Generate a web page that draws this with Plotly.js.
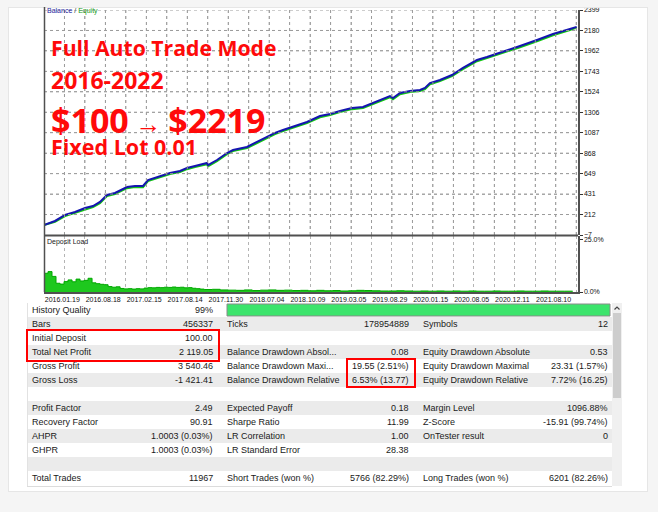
<!DOCTYPE html>
<html><head><meta charset="utf-8">
<script src="https://cdn.plot.ly/plotly-3.0.1.min.js"></script>
<style>html,body{margin:0;padding:0;background:#ffffff;}#chart{width:658px;height:512px;}</style>
</head><body><div id="chart"></div>
<script>
// ---------- data ----------
const tradeX = [0,247,472,697,921,1101,1258,1416,1595,1865,2045,2225,2337,2607,2831,3056,3213,3393,3663,3685,3887,4112,4247,4561,4786,5011,5191,5370,5640,5910,6202,6427,6651,6921,7168,7393,7707,7774,7842,8000,8224,8449,8561,8673,8898,9168,9415,9730,9954,10314,10696,11078,11437,11819,11970];
const balance = [100,143,207,239,282,303,346,421,442,506,517,517,581,624,656,677,709,731,763,741,795,870,902,934,987,1041,1084,1116,1159,1201,1265,1287,1319,1351,1362,1405,1469,1479,1458,1511,1533,1544,1565,1618,1650,1704,1779,1864,1896,1950,2014,2078,2142,2196,2219];
const equity = [100,134,196,230,271,292,334,410,431,494,506,505,570,612,645,665,697,720,750,728,783,858,890,922,975,1028,1072,1104,1147,1189,1252,1275,1307,1339,1350,1393,1456,1466,1444,1498,1521,1532,1553,1605,1638,1691,1766,1851,1884,1937,2001,2065,2129,2184,2210];

const loadX = [0,90,180,270,360,450,540,630,720,810,900,990,1080,1170,1260,1350,1440,1530,1620,1710,1800,1890,1980,2070,2160,2250,2340,2430,2520,2610,2700,2790,2880,2970,3060,3150,3240,3330,3420,3510,3600,
3780,3960,4140,4320,4500,4680,4860,5040,5220,5400,5580,5760,5940,6120,6300,6480,6660,6840,7020,7200,7380,7560,7740,7920,8100,8280,8460,8640,8820,9000,9180,9360,9540,9720,9900,10080,10260,10440,10620,10800,10980,11160,11340,11520,11700,11880];
const depositLoad = [9.0,9.8,7.5,4.2,3.8,5.0,5.8,4.9,6.2,5.3,5.6,6.6,4.4,4.0,3.7,3.5,2.6,2.3,2.5,1.7,1.5,1.6,1.4,1.6,1.5,1.9,2.1,2.0,2.2,2.1,2.3,2.2,2.4,2.2,2.3,2.0,2.1,1.8,1.6,1.4,1.2,
1.3,1.0,0.9,0.8,1.0,0.7,0.9,1.0,0.8,0.9,0.7,0.8,0.6,0.8,0.6,0.7,0.5,0.6,0.8,0.7,0.6,0.5,0.5,0.6,0.5,0.4,0.5,0.4,0.5,0.4,0.5,0.4,0.5,0.4,0.4,0.5,0.4,0.4,0.5,0.4,0.4,0.5,0.4,0.4,0.4,0.4];

const yTickVals = [-7,212,431,649,868,1087,1306,1524,1743,1962,2180,2399];
const dateTickVals = [0,920,1840,2760,3680,4600,5520,6440,7360,8280,9200,10120,11040];
const dateTickText = ["2016.01.19","2016.08.18","2017.02.15","2017.08.14","2017.11.30","2018.07.04","2018.10.09","2019.03.05","2019.08.29","2020.01.15","2020.08.05","2020.12.11","2021.08.10"];

const titleLines = ["Full Auto Trade Mode","2016-2022","$100","$2219","Fixed Lot 0.01"];

const col1Labels = ["History Quality","Bars","Initial Deposit","Total Net Profit","Gross Profit","Gross Loss","","Profit Factor","Recovery Factor","AHPR","GHPR","","Total Trades"];
const col1Values = ["99%","456337","100.00","2 119.05","3 540.46","-1 421.41","","2.49","90.91","1.0003 (0.03%)","1.0003 (0.03%)","","11967"];
const col2Labels = ["","Ticks","","Balance Drawdown Absol...","Balance Drawdown Maxi...","Balance Drawdown Relative","","Expected Payoff","Sharpe Ratio","LR Correlation","LR Standard Error","","Short Trades (won %)"];
const col2Values = ["","178954889","","0.08","19.55 (2.51%)","6.53% (13.77)","","0.18","11.99","1.00","28.38","","5766 (82.29%)"];
const col3Labels = ["","Symbols","","Equity Drawdown Absolute","Equity Drawdown Maximal","Equity Drawdown Relative","","Margin Level","Z-Score","OnTester result","","","Long Trades (won %)"];
const col3Values = ["","12","","0.53","23.31 (1.57%)","7.72% (16.25)","","1096.88%","-15.91 (99.74%)","0","","","6201 (82.26%)"];

// ---------- layout helpers ----------
const W = 658, H = 512;
const px = x => x / W;
const py = y => 1 - y / H;
const GRID_STEP = 460, X_MAX = 12000;

const shapes = [];
const annotations = [];
const P = {xref:'paper', yref:'paper', layer:'above'};
function rect(x0, y0, x1, y1, fill, line) {
  shapes.push(Object.assign({type:'rect', x0:px(x0), x1:px(x1), y0:py(y1), y1:py(y0),
    fillcolor:fill, line:line || {width:0}}, P));
}
function hline(x0, x1, y, color, w) {
  shapes.push(Object.assign({type:'line', x0:px(x0), x1:px(x1), y0:py(y), y1:py(y), line:{color:color, width:w}}, P));
}
function vline(x, y0, y1, color, w) {
  shapes.push(Object.assign({type:'line', x0:px(x), x1:px(x), y0:py(y0), y1:py(y1), line:{color:color, width:w}}, P));
}

const gridCol = '#b4b4b4';
const shapeGridCol = '#9c9c9c';

// dotted grid of the balance panel, tied to its axes
for (let gx = GRID_STEP; gx < X_MAX; gx += GRID_STEP) {
  shapes.push({type:'line', xref:'x', yref:'y domain', x0:gx, x1:gx, y0:0, y1:1, layer:'above',
    line:{color:shapeGridCol, width:1, dash:'dot'}});
}
yTickVals.slice(1).forEach(v => {
  shapes.push({type:'line', xref:'x domain', yref:'y', x0:0, x1:1, y0:v, y1:v, layer:'above',
    line:{color:shapeGridCol, width:1, dash:'dot'}});
});

// outer light-gray margin around the white card
const outer = '#f5f5f5';
rect(0, 0, 658, 7, outer);
rect(0, 492, 658, 512, outer);
rect(0, 7, 8, 492, outer);
rect(648, 7, 658, 492, outer);
hline(8, 648, 7.5, '#e6e6e6', 1);
hline(8, 648, 491.5, '#e6e6e6', 1);
vline(8.5, 7, 492, '#e6e6e6', 1);
vline(647.5, 7, 492, '#e6e6e6', 1);

// table row backgrounds
const rowTop = 303, rowH = 14;
for (let i = 0; i < col1Labels.length; i++) {
  if (i % 2 === 1) rect(27, rowTop + rowH*i, 612, rowTop + rowH*(i+1), '#ebebeb');
}
hline(27, 612, 486.5, '#dcdcdc', 1);
vline(27.5, 303, 486, '#e2e2e2', 1);
// history quality bar
rect(227, 304, 610, 316, '#3ce46c', {color:'#8a8a8a', width:1});
// scrollbar
rect(612, 303, 622, 486, '#f0f0f0');
rect(613, 313, 621, 398, '#cdcdcd');
shapes.push(Object.assign({type:'path',
  path:`M ${px(614.5)} ${py(309.5)} L ${px(617)} ${py(307)} L ${px(619.5)} ${py(309.5)}`, line:{color:'#444', width:1.2}}, P));
// red highlight boxes (outline only)
function box(x0, y0, x1, y1) {
  hline(x0, x1, y0, '#ff0000', 2); hline(x0, x1, y1, '#ff0000', 2);
  vline(x0, y0 - 1, y1 + 1, '#ff0000', 2); vline(x1, y0 - 1, y1 + 1, '#ff0000', 2);
}
box(27, 330, 219, 361);
box(347, 359, 415, 387);
// chart frame lines
vline(44.5, 7, 292, '#505050', 1.5);
hline(44, 578, 235.5, '#505050', 2);

// table text
const tFont = {family:'Liberation Sans, Arial, sans-serif', size:9, color:'#1a1a1a'};
function cell(text, x, y, anchor) {
  if (!text) return;
  annotations.push({xref:'paper', yref:'paper', x:px(x), y:py(y), text:text, showarrow:false,
    xanchor:anchor, yanchor:'middle', font:tFont, borderpad:0});
}
for (let i = 0; i < col1Labels.length; i++) {
  const y = rowTop + rowH*i + 7;
  cell(col1Labels[i], 31, y, 'left');
  cell(col1Values[i], 214, y, 'right');
  cell(col2Labels[i], 226, y, 'left');
  cell(col2Values[i], 410, y, 'right');
  cell(col3Labels[i], 422, y, 'left');
  cell(col3Values[i], 609, y, 'right');
}

// chart labels
annotations.push({xref:'paper', yref:'paper', x:px(46), y:py(11), xanchor:'left', yanchor:'middle', showarrow:false, borderpad:0,
  text:"<span style='color:#1c1ca0'>Balance</span> / <span style='color:#159a15'>Equity</span>",
  font:{family:'Liberation Sans, Arial, sans-serif', size:7, color:'#333'}});
annotations.push({xref:'paper', yref:'paper', x:px(46), y:py(241.5), xanchor:'left', yanchor:'middle', showarrow:false, borderpad:0,
  text:"Deposit Load", font:{family:'Liberation Sans, Arial, sans-serif', size:7, color:'#222'}});

// red promo text
const red = '#ff0a0a';
const bigFont = (s) => ({family:'Open Sans, sans-serif', size:s, color:red, weight:700});
function big(text, y, size) {
  annotations.push({xref:'paper', yref:'paper', x:px(50), y:py(y), xanchor:'left', yanchor:'middle', showarrow:false, borderpad:0,
    text:text, font:bigFont(size)});
}
big(titleLines[0], 47, 21.2);
big(titleLines[1], 79.5, 23);
big(titleLines[2] + "<span style='font-size:26px;font-weight:400'> → </span>" + titleLines[3], 120, 34);
big(titleLines[4], 146.5, 21.5);

const tickFont = {family:'Liberation Sans, Arial, sans-serif', size:7, color:'#111'};
const dotGrid = {showgrid:true, gridcolor:gridCol, griddash:'dot', gridwidth:1, ticks:''};

const traces = [
  {type:'scatter', mode:'lines', x:tradeX, y:equity, xaxis:'x', yaxis:'y', line:{color:'#12c812', width:2}, hoverinfo:'skip'},
  {type:'scatter', mode:'lines', x:tradeX, y:balance, xaxis:'x', yaxis:'y', line:{color:'#1515b0', width:2}, hoverinfo:'skip'},
  {type:'scatter', mode:'lines', x:loadX, y:depositLoad, xaxis:'x2', yaxis:'y2', fill:'tozeroy',
    line:{color:'#00a800', width:1, shape:'hv'}, fillcolor:'#1ec81e', hoverinfo:'skip'}
];

const layout = {
  width:W, height:H, margin:{l:0, r:0, t:0, b:0}, showlegend:false,
  paper_bgcolor:'#ffffff', plot_bgcolor:'#ffffff',
  xaxis:{domain:[px(44), px(578)], range:[0,X_MAX], anchor:'y', showticklabels:false, ticks:'',
    tickmode:'linear', tick0:0, dtick:GRID_STEP, showgrid:true, gridcolor:gridCol, griddash:'dot', gridwidth:1,
    zeroline:false, showline:false},
  yaxis:{domain:[py(235), py(10)], range:[-7,2399], anchor:'x', side:'right', tickmode:'array', tickvals:yTickVals,
    ticks:'outside', ticklen:3, tickcolor:'#333', tickfont:tickFont, showgrid:true, gridcolor:gridCol, griddash:'dot',
    zeroline:false, showline:true, linecolor:'#505050', linewidth:1.5},
  xaxis2:{domain:[px(44), px(578)], range:[0,X_MAX], anchor:'y2', tickmode:'array', tickvals:dateTickVals, ticktext:dateTickText,
    tickangle:0, ticklabelposition:'outside right', ticks:'', tickfont:tickFont, showgrid:true, gridcolor:gridCol, griddash:'dot',
    minor:Object.assign({tickmode:'linear', tick0:0, dtick:GRID_STEP}, dotGrid),
    zeroline:false, showline:true, linecolor:'#505050', linewidth:1.5},
  yaxis2:{domain:[py(292), py(236)], range:[0,26.92], anchor:'x2', side:'right', tickmode:'array', tickvals:[0,25], ticktext:['0.0%','25.0%'],
    ticks:'outside', ticklen:3, tickcolor:'#333', tickfont:tickFont, showgrid:false, zeroline:false, showline:true, linecolor:'#505050', linewidth:1.5},
  shapes:shapes, annotations:annotations
};

Plotly.newPlot('chart', traces, layout, {staticPlot:true, displayModeBar:false});
</script></body></html>
